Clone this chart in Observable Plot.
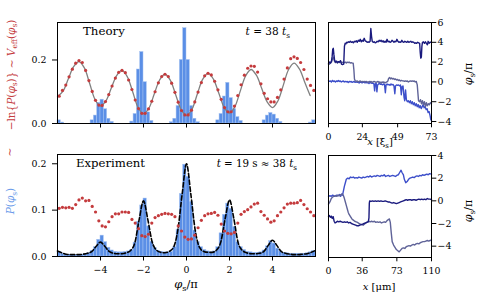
<!DOCTYPE html>
<html><head><meta charset="utf-8">
<script src="https://cdn.jsdelivr.net/npm/d3@7"></script>
<script src="https://cdn.jsdelivr.net/npm/@observablehq/plot@0.6"></script>
<style>
body{margin:0;background:#fff;}
#fig{position:relative;width:478px;height:295px;overflow:hidden;background:#fff;}
#fig > svg{position:absolute;left:0;top:0;}
</style></head><body><div id="fig"></div>
<script>
// ---------- data ----------
const binWidth = 2/13; // histogram bin width in units of pi
const phiCenters = [
-5.923,-5.769,-5.615,-5.462,-5.308,-5.154,-5.000,-4.846,-4.692,-4.538,-4.385,-4.231,-4.077,
-3.923,-3.769,-3.615,-3.462,-3.308,-3.154,-3.000,-2.846,-2.692,-2.538,-2.385,-2.231,-2.077,
-1.923,-1.769,-1.615,-1.462,-1.308,-1.154,-1.000,-0.846,-0.692,-0.538,-0.385,-0.231,-0.077,
0.077,0.231,0.385,0.538,0.692,0.846,1.000,1.154,1.308,1.462,1.615,1.769,1.923,
2.077,2.231,2.385,2.538,2.692,2.846,3.000,3.154,3.308,3.462,3.615,3.769,3.923,
4.077,4.231,4.385,4.538,4.692,4.846,5.000,5.154,5.308,5.462,5.615,5.769,5.923];
const theoryP = [
0.010,0.003,0,0,0,0,0,0,0,0,0.010,0.025,0.065,
0.075,0.045,0.015,0.005,0,0,0,0,0,0.006,0.030,0.170,0.225,
0.130,0.035,0.008,0,0,0,0,0,0.004,0.015,0.055,0.200,0.300,
0.200,0.055,0.015,0.004,0,0,0,0,0,0.010,0.030,0.085,0.128,
0.080,0.045,0.020,0.008,0,0,0,0,0,0,0.010,0.025,0.033,
0.028,0.015,0.005,0,0,0,0,0,0,0,0,0.003,0.010];
const theoryV = [
0.086,0.104,0.121,0.147,0.171,0.190,0.198,0.192,0.167,0.135,0.101,0.073,0.058,
0.057,0.069,0.091,0.118,0.143,0.161,0.167,0.160,0.137,0.107,0.074,0.047,0.032,
0.032,0.046,0.070,0.100,0.128,0.148,0.155,0.148,0.127,0.098,0.067,0.041,0.027,
0.027,0.042,0.068,0.099,0.129,0.150,0.158,0.153,0.133,0.106,0.076,0.050,0.037,
0.037,0.055,0.088,0.122,0.152,0.174,0.181,0.180,0.162,0.125,0.095,0.078,0.068,
0.068,0.082,0.106,0.140,0.175,0.204,0.210,0.205,0.192,0.170,0.140,0.120,0.104];
const veffX = [-6,-5.75,-5.5,-5.25,-5,-4.75,-4.5,-4.25,-4,-3.75,-3.5,-3.25,-3,-2.75,-2.5,-2.25,-2,-1.75,-1.5,-1.25,-1,-0.75,-0.5,-0.25,0,0.25,0.5,0.75,1,1.25,1.5,1.75,2,2.25,2.5,2.75,3,3.25,3.5,3.75,4,4.25,4.5,4.75,5,5.25,5.5,5.75];
const veffY = [0.085,0.101,0.140,0.179,0.195,0.175,0.125,0.075,0.055,0.071,0.111,0.151,0.167,0.147,0.099,0.050,0.030,0.048,0.093,0.137,0.155,0.136,0.090,0.044,0.025,0.044,0.092,0.139,0.158,0.140,0.096,0.051,0.033,0.053,0.102,0.150,0.170,0.152,0.110,0.068,0.050,0.071,0.120,0.170,0.190,0.172,0.130,0.088];
const expP = [
0.010,0.006,0.004,0.004,0.003,0.003,0.003,0.004,0.005,0.007,0.012,0.020,0.036,
0.045,0.031,0.019,0.013,0.010,0.009,0.009,0.010,0.011,0.014,0.030,0.075,0.110,
0.125,0.065,0.032,0.018,0.012,0.010,0.009,0.009,0.010,0.020,0.058,0.135,0.198,
0.172,0.118,0.056,0.031,0.020,0.014,0.011,0.009,0.011,0.020,0.050,0.090,0.114,
0.103,0.064,0.031,0.020,0.014,0.010,0.009,0.008,0.008,0.009,0.013,0.022,0.033,
0.028,0.017,0.011,0.008,0.007,0.006,0.006,0.006,0.006,0.006,0.007,0.009,0.012];
const expV = [
0.104,0.106,0.105,0.106,0.104,0.112,0.122,0.126,0.120,0.121,0.108,0.096,0.077,
0.066,0.064,0.075,0.086,0.092,0.092,0.096,0.096,0.095,0.080,0.072,0.060,0.045,
0.043,0.048,0.072,0.084,0.088,0.091,0.093,0.092,0.091,0.086,0.066,0.055,0.042,
0.037,0.038,0.046,0.062,0.078,0.088,0.092,0.093,0.095,0.089,0.070,0.055,0.050,
0.049,0.052,0.072,0.091,0.097,0.101,0.107,0.113,0.115,0.097,0.089,0.081,0.074,
0.077,0.088,0.096,0.105,0.113,0.115,0.115,0.116,0.121,0.112,0.103,0.096,0.088];
const fitX = [-6,-5.8,-5.6,-5.4,-5.2,-5,-4.8,-4.6,-4.4,-4.2,-4,-3.8,-3.6,-3.4,-3.2,-3,-2.8,-2.6,-2.4,-2.2,-2,-1.8,-1.6,-1.4,-1.2,-1,-0.8,-0.6,-0.4,-0.2,0,0.2,0.4,0.6,0.8,1,1.2,1.4,1.6,1.8,2,2.2,2.4,2.6,2.8,3,3.2,3.4,3.6,3.8,4,4.2,4.4,4.6,4.8,5,5.2,5.4,5.6,5.8,6];
const fitP = [0.012,0.008,0.005,0.004,0.004,0.004,0.005,0.007,0.011,0.022,0.031,0.022,0.011,0.007,0.006,0.006,0.008,0.013,0.030,0.080,0.120,0.080,0.032,0.014,0.009,0.008,0.011,0.020,0.058,0.135,0.200,0.135,0.058,0.020,0.011,0.009,0.009,0.014,0.032,0.082,0.122,0.082,0.030,0.013,0.008,0.006,0.006,0.007,0.011,0.024,0.035,0.024,0.011,0.007,0.005,0.004,0.004,0.005,0.006,0.009,0.013];

// theory traces: [x (xi_s), phi_s/pi]
const thNavy = [[0,1.85],[0.7,2.0],[1.4,1.9],[2.1,2.1],[2.6,2.6],[3.0,3.3],[3.4,3.4],[3.8,2.8],[4.3,2.2],[5.0,2.0],[5.7,2.1],[6.4,1.95],[7.1,2.05],[7.8,2.0],[8.5,2.15],[9.2,1.8],[9.9,1.75],[10.8,1.8],[11.3,3.6],[11.8,3.9],[12.4,3.85],[12.9,4.0],[13.4,3.95],[14.1,4.05],[14.8,4.0],[15.5,4.1],[16.2,4.0],[16.9,4.05],[17.6,3.95],[18.3,4.1],[19.0,4.05],[19.7,4.15],[20.4,4.0],[21.1,4.2],[21.8,4.1],[22.5,4.3],[23.2,4.05],[23.9,4.2],[24.6,4.1],[25.3,4.4],[26.0,4.15],[26.7,4.1],[27.4,4.0],[28.1,4.05],[28.8,4.0],[29.5,4.1],[30.0,5.4],[30.5,4.6],[31.0,4.1],[31.7,4.0],[32.4,4.05],[33.1,3.95],[33.8,4.0],[34.5,4.1],[35.2,4.05],[35.9,4.2],[36.6,4.1],[37.3,4.2],[38.0,4.05],[38.7,4.15],[39.4,4.0],[40.1,4.1],[40.8,4.0],[41.5,4.3],[42.2,4.05],[42.9,4.1],[43.6,4.0],[44.3,4.05],[45.0,4.2],[45.7,4.1],[46.4,4.0],[47.1,4.1],[47.8,4.05],[48.5,4.3],[49.2,4.1],[49.9,4.0],[50.6,4.05],[51.3,4.0],[52.0,4.2],[52.7,4.05],[53.4,4.0],[54.1,4.1],[54.8,4.05],[55.5,4.0],[56.2,4.1],[56.9,4.0],[57.6,4.05],[58.3,4.1],[59.0,4.0],[59.7,4.05],[60.4,4.0],[61.1,3.9],[61.8,3.95],[62.5,3.9],[63.2,4.0],[63.9,3.95],[64.6,3.9],[65.0,3.0],[65.4,2.4],[65.8,2.5],[66.2,3.6],[66.6,4.0],[67.3,4.05],[68.0,3.9],[68.7,4.05],[69.4,3.9],[70.1,3.75],[70.6,4.1],[71.3,3.9],[72.0,4.0],[73,4.0]];
const thGray = [[0,1.75],[0.7,1.8],[1.4,1.9],[2.1,2.0],[2.8,2.3],[3.5,2.5],[4.2,2.1],[4.9,1.95],[5.6,2.0],[6.3,1.9],[7.0,2.0],[7.7,1.95],[8.4,2.05],[9.1,2.0],[9.8,1.95],[10.5,2.0],[11.2,1.95],[11.9,2.0],[12.6,1.9],[13.3,2.0],[14.0,1.95],[14.7,2.0],[15.4,1.9],[16.1,1.95],[16.8,1.9],[17.5,1.9],[18.0,1.2],[18.4,0.3],[19.0,0.1],[19.7,0.05],[20.4,0.1],[21.1,0.0],[21.8,0.05],[22.5,0.1],[23.2,0.0],[23.9,0.05],[24.6,0.0],[25.3,0.05],[26.0,0.0],[26.7,0.05],[27.4,0.0],[28.1,-0.05],[28.8,0.05],[29.5,0.0],[30.2,0.05],[30.9,-0.05],[31.6,0.0],[32.3,0.05],[33.0,0.0],[33.7,-0.05],[34.4,0.0],[35.1,0.05],[35.8,-0.05],[36.5,0.0],[37.2,-0.1],[37.9,0.0],[38.6,-0.05],[39.3,0.0],[40.0,-0.1],[40.7,-0.05],[41.4,0.0],[42.1,0.1],[42.6,0.35],[43.3,0.45],[44.0,0.3],[44.7,0.4],[45.4,0.3],[46.1,0.35],[46.8,0.25],[47.5,0.3],[48.2,0.2],[48.9,0.25],[49.6,0.15],[50.3,0.2],[51.0,0.1],[51.7,0.15],[52.4,0.1],[53.1,0.1],[53.8,0.05],[54.5,0.1],[55.2,0.05],[55.9,0.1],[56.6,0.0],[57.3,0.05],[58.0,0.1],[58.7,0.05],[59.4,0.1],[60.1,0.05],[60.8,0.1],[61.5,0.0],[62.2,0.05],[62.9,-0.3],[63.4,-1.2],[63.8,-1.9],[64.5,-2.0],[65.2,-1.8],[65.9,-2.2],[66.6,-1.9],[67.3,-2.3],[68.0,-2.0],[68.7,-2.5],[69.4,-2.1],[70.1,-2.4],[70.8,-2.2],[71.5,-2.3],[72.2,-2.1],[73,-2.2]];
const thBlue = [[0,0.1],[0.7,0.05],[1.4,0.1],[2.1,0.0],[2.8,0.15],[3.5,0.05],[4.2,0.1],[4.9,0.0],[5.6,0.1],[6.3,0.05],[7.0,0.15],[7.7,0.05],[8.4,0.1],[9.1,0.0],[9.8,0.05],[10.5,0.1],[11.2,0.0],[11.9,0.05],[12.6,0.0],[13.3,0.05],[14.0,-0.05],[14.7,0.05],[15.4,0.0],[16.1,0.05],[16.8,-0.05],[17.5,0.0],[18.2,0.05],[18.9,-0.05],[19.6,0.0],[20.3,-0.05],[21.0,0.0],[21.7,-0.1],[22.4,0.0],[23.1,-0.05],[23.8,-0.1],[24.5,0.0],[25.2,-0.05],[25.9,-0.1],[26.6,-0.05],[27.3,-0.1],[28.0,-0.05],[28.7,-0.15],[29.4,-0.05],[30.1,-0.1],[30.8,-0.15],[31.5,-0.1],[32.2,-0.2],[32.7,-0.9],[33.1,-0.2],[33.8,-0.15],[34.3,-1.0],[34.8,-0.3],[35.5,-0.2],[36.2,-0.15],[36.9,-0.25],[37.6,-0.2],[38.3,-0.3],[39.0,-0.2],[39.7,-0.25],[40.3,-1.1],[40.8,-0.3],[41.5,-0.2],[42.2,-0.3],[42.9,-0.25],[43.6,-0.35],[44.3,-0.2],[45.0,-0.3],[45.7,-0.25],[46.4,-0.4],[47.0,-1.2],[47.5,-0.4],[48.2,-0.3],[48.9,-0.35],[49.6,-0.3],[50.3,-0.4],[51.0,-0.3],[51.6,-1.3],[52.1,-0.5],[52.8,-0.4],[53.5,-1.5],[54.0,-1.9],[54.6,-0.8],[55.2,-1.8],[55.9,-2.0],[56.6,-1.9],[57.3,-2.1],[58.0,-1.9],[58.7,-2.2],[59.4,-2.0],[60.1,-2.3],[60.8,-2.1],[61.5,-2.4],[62.2,-2.2],[62.9,-2.5],[63.6,-2.3],[64.3,-2.6],[65.0,-2.4],[65.7,-2.7],[66.4,-2.5],[67.1,-2.3],[67.8,-2.6],[68.5,-2.5],[69.2,-2.8],[69.9,-2.7],[70.6,-3.1],[71.3,-3.0],[72.0,-3.4],[72.5,-3.8],[73,-3.9]];
// experiment traces: [x (um), phi_s/pi]
const exBlue = [[0,0.4],[1.5,0.45],[3,0.4],[4.5,0.5],[6,0.4],[7.5,0.45],[9,0.5],[10.5,0.45],[12,0.55],[13,0.4],[14,0.6],[15,0.5],[16,0.9],[17,1.3],[18,1.6],[19,1.9],[20.5,2.0],[22,1.95],[23.5,2.1],[25,2.05],[26.5,2.1],[28,2.0],[29.5,2.05],[31,2.0],[32.5,2.1],[34,2.05],[35.5,2.0],[37,2.1],[38.5,2.05],[40,2.1],[41.5,2.15],[43,2.1],[44.5,2.2],[46,2.1],[47.5,2.15],[49,2.2],[50.5,2.15],[52,2.25],[53.5,2.2],[55,2.15],[56.5,2.25],[58,2.2],[59.5,2.3],[61,2.15],[62.5,2.2],[64,2.25],[65.5,2.15],[67,2.2],[68.5,2.25],[70,2.2],[71.5,2.15],[73,2.25],[74.5,2.3],[76,2.5],[77.5,2.7],[78.5,2.5],[80,2.3],[81,1.9],[82.5,1.6],[84,1.7],[85.5,1.9],[87,2.0],[88.5,2.05],[90,2.1],[91.5,2.05],[93,2.15],[94.5,2.2],[96,2.15],[97.5,2.25],[99,2.2],[100.5,2.3],[102,2.25],[103.5,2.3],[105,2.35],[106.5,2.3],[108,2.4],[110,2.35]];
const exGray = [[0,-0.3],[1.5,-0.1],[3,0.2],[4.5,0.35],[6,0.4],[7.5,0.45],[9,0.4],[10.5,0.5],[12,0.45],[13.5,0.55],[15,0.6],[16,0.45],[17,0.2],[18,-0.1],[19,-0.4],[20,-0.7],[21,-1.0],[22,-1.2],[23.5,-1.4],[25,-1.6],[26.5,-1.7],[28,-1.8],[29.5,-1.85],[31,-1.9],[32.5,-2.0],[34,-2.05],[35.5,-2.1],[37,-2.15],[38.5,-2.05],[40,-1.95],[41.5,-1.85],[43,-1.8],[44.5,-1.85],[46,-1.8],[47.5,-1.85],[49,-1.8],[50.5,-1.9],[52,-1.85],[53.5,-1.9],[55,-1.85],[56.5,-1.95],[58,-1.9],[59.5,-1.85],[61,-1.9],[62.5,-1.75],[64,-1.65],[65,-1.6],[66,-1.9],[67,-2.8],[68,-3.6],[69.5,-3.9],[71,-4.1],[72.5,-4.3],[74,-4.4],[75.5,-4.5],[77,-4.35],[78.5,-4.2],[80,-4.15],[81.5,-4.2],[83,-4.05],[84.5,-4.0],[86,-3.95],[87.5,-4.0],[89,-3.9],[90.5,-3.85],[92,-3.9],[93.5,-3.8],[95,-3.75],[96.5,-3.8],[98,-3.7],[99.5,-3.65],[101,-3.6],[102.5,-3.6],[104,-3.55],[105.5,-3.5],[107,-3.55],[108.5,-3.5],[110,-3.45]];
const exNavy = [[0,-1.4],[1,-1.3],[2,-1.45],[3,-1.35],[4,-1.55],[5,-1.4],[6,-1.8],[7,-1.95],[8,-1.9],[9.5,-1.8],[11,-1.85],[12.5,-1.8],[14,-1.85],[15.5,-1.9],[17,-1.85],[18.5,-1.9],[20,-1.85],[21.5,-1.95],[23,-1.9],[24.5,-2.0],[26,-2.05],[27.5,-2.1],[29,-2.15],[30.5,-2.2],[32,-2.2],[33.5,-2.15],[35,-2.1],[36.5,-2.05],[38,-2.0],[39.5,-1.95],[41,-1.9],[42.5,-1.85],[43.2,-1.5],[43.6,-0.2],[44,0.0],[45.5,-0.05],[47,0.0],[48.5,-0.05],[50,0.0],[51.5,-0.05],[53,0.0],[54.5,-0.05],[56,0.0],[57.5,-0.05],[59,-0.05],[60.5,0.0],[62,-0.05],[63.5,-0.1],[65,-0.1],[66.5,-0.15],[68,-0.2],[69.5,-0.15],[71,-0.2],[72.5,-0.25],[74,-0.2],[75.5,-0.15],[77,-0.1],[78.5,-0.05],[80,0.0],[81.5,0.05],[83,0.1],[84.5,0.05],[86,0.1],[87.5,0.1],[89,0.05],[90.5,0.1],[92,0.1],[93.5,0.05],[95,0.1],[96.5,0.15],[98,0.1],[99.5,0.15],[101,0.1],[102.5,0.15],[104,0.1],[105.5,0.2],[107,0.15],[108.5,0.15],[110,0.1]];

const phiTicks = [-4,-2,0,2,4];
const thXTicks = [0,24,49,73];
const exXTicks = [0,36,73,110];
const thYTicks = [6,4,2,0,-2,-4];
const exYTicks = [4,2,0,-2,-4];

// ---------- drawing ----------
const W = 478, H = 295;
const serif = '"DejaVu Serif", serif';
const C = {bar:"#5b8fe6", barEdge:"#a6c3f1", red:"#c43b3d", gray:"#808080", navy:"#1a1a7e", blue:"#3d4fca", grayBlue:"#5f6398", pblue:"#6b9bea"};
const fmtNum = d => d < 0 ? "\u2212" + (-d) : String(d);
const style = {background:"transparent", fontFamily:serif, fontSize:"9.4px", color:"black", overflow:"visible"};
const fig = document.getElementById("fig");

const theory = phiCenters.map((x,i)=>({x, p:theoryP[i], v:theoryV[i]}));
const expt = phiCenters.map((x,i)=>({x, p:expP[i], v:expV[i]}));
const veff = veffX.map((x,i)=>({x, y:veffY[i]}));
const fit = fitX.map((x,i)=>({x, y:fitP[i]}));

function histMarks(data){
  return Plot.rect(data.filter(d=>d.p>0), {x1:d=>d.x-binWidth/2, x2:d=>d.x+binWidth/2, y1:0, y2:"p", fill:C.bar, stroke:C.barEdge, strokeWidth:0.5});
}

const tl = Plot.plot({
  width:W, height:H, marginLeft:57, marginRight:W-315, marginTop:22, marginBottom:H-123, style,
  x:{domain:[-6,6], label:null}, y:{domain:[0,0.318], label:null},
  marks:[
    histMarks(theory),
    Plot.line(veff, {x:"x", y:"y", stroke:C.gray, strokeWidth:1.3, curve:"catmull-rom"}),
    Plot.dot(theory, {x:"x", y:"v", r:1.6, fill:C.red, stroke:"none"}),
    Plot.axisX({ticks:phiTicks, tickSize:4.5, tickFormat:()=>"", label:null}),
    Plot.axisY({ticks:[0,0.2], tickSize:5, tickPadding:6, tickFormat:d3.format(".1f"), label:null}),
    Plot.frame({stroke:"black", strokeWidth:1})
  ]
});

const bl = Plot.plot({
  width:W, height:H, marginLeft:57, marginRight:W-315, marginTop:154, marginBottom:H-256, style,
  x:{domain:[-6,6], label:null}, y:{domain:[0,0.22], label:null},
  marks:[
    histMarks(expt),
    Plot.line(fit, {x:"x", y:"y", stroke:"black", strokeWidth:1.6, strokeDasharray:"4.5,2.2", curve:"monotone-x"}),
    Plot.dot(expt, {x:"x", y:"v", r:1.6, fill:C.red, stroke:"none"}),
    Plot.axisX({ticks:phiTicks, tickSize:4.5, tickPadding:5.5, tickFormat:fmtNum, label:null}),
    Plot.axisY({ticks:[0,0.1,0.2], tickSize:5, tickPadding:6, tickFormat:d3.format(".1f"), label:null}),
    Plot.frame({stroke:"black", strokeWidth:1})
  ]
});

function traceMarks(series){
  return series.map(([d,col])=>Plot.line(d, {x:p=>p[0], y:p=>p[1], stroke:col, strokeWidth:1.4}));
}

const tr = Plot.plot({
  width:W, height:H, marginLeft:328, marginRight:W-431, marginTop:22, marginBottom:H-123, style,
  x:{domain:[0,73], label:null}, y:{domain:[-4.2,6], label:null},
  marks:[
    ...traceMarks([[thBlue,C.blue],[thGray,C.grayBlue],[thNavy,C.navy]]),
    Plot.axisX({ticks:thXTicks, tickSize:4.3, tickPadding:6, tickFormat:fmtNum, label:null}),
    Plot.axisY({anchor:"right", ticks:thYTicks, tickSize:4.3, tickPadding:1.8, tickFormat:fmtNum, label:null}),
    Plot.frame({stroke:"black", strokeWidth:1})
  ]
});

const br = Plot.plot({
  width:W, height:H, marginLeft:328, marginRight:W-431, marginTop:155, marginBottom:H-257, style,
  x:{domain:[0,110], label:null}, y:{domain:[-5,4], label:null},
  marks:[
    ...traceMarks([[exBlue,C.blue],[exGray,C.grayBlue],[exNavy,C.navy]]),
    Plot.axisX({ticks:exXTicks, tickSize:4.3, tickPadding:5.5, tickFormat:fmtNum, label:null}),
    Plot.axisY({anchor:"right", ticks:exYTicks, tickSize:4.3, tickPadding:1.8, tickFormat:fmtNum, label:null}),
    Plot.frame({stroke:"black", strokeWidth:1})
  ]
});

[tl, bl, tr, br].forEach(p => fig.appendChild(p));

// ---------- text overlay ----------
const overlay = d3.select(fig).append("svg").attr("width",W).attr("height",H).style("font-family",serif);
function rich(x, y, parts, {size=11, anchor="start", rotate=0, fill="black"}={}) {
  const t = overlay.append("text").attr("x",x).attr("y",y).attr("font-size",size).attr("text-anchor",anchor).attr("fill",fill);
  if (rotate) t.attr("transform",`rotate(${rotate},${x},${y})`);
  let shift = 0;
  for (const p of parts) {
    const s = t.append("tspan").text(p.t);
    if (p.i) s.attr("font-style","italic");
    const target = p.sub ? size*0.28 : 0;
    if (target !== shift) { s.attr("dy", target - shift); shift = target; }
    if (p.sub) s.attr("font-size", size*0.7);
  }
  return t;
}
const phiS = [{t:"\u03c6",i:1},{t:"s",sub:1}];
rich(83, 35, [{t:"Theory"}], {size:11.8});
rich(290, 35, [{t:"t",i:1},{t:" = 38 "},{t:"t",i:1},{t:"s",sub:1}], {size:10.5, anchor:"end"});
rich(76, 167, [{t:"Experiment"}], {size:11.7});
rich(297, 167, [{t:"t",i:1},{t:" = 19 s \u2248 38 "},{t:"t",i:1},{t:"s",sub:1}], {size:10.3, anchor:"end"});
rich(186, 288, [...phiS,{t:"/\u03c0"}], {size:11.5, anchor:"middle"});
rich(380, 145, [{t:"x",i:1},{t:" [\u03be"},{t:"s",sub:1},{t:"]"}], {size:10, anchor:"middle"});
rich(379, 290, [{t:"x",i:1},{t:" [\u03bcm]"}], {size:10, anchor:"middle"});
rich(471.5, 74, [...phiS,{t:"/\u03c0"}], {size:11, anchor:"middle", rotate:-90});
rich(471.5, 211, [...phiS,{t:"/\u03c0"}], {size:11, anchor:"middle", rotate:-90});
rich(14.5, 75, [{t:"\u2212ln{"},{t:"P",i:1},{t:"("},...phiS,{t:")} \u223c "},{t:"V",i:1},{t:"eff",sub:1},{t:"("},...phiS,{t:")"}], {size:10.5, anchor:"middle", rotate:-90, fill:C.red});
rich(13, 152, [{t:"\u223c"}], {size:10.5, anchor:"middle", rotate:-90, fill:C.red});
rich(14, 201, [{t:"P",i:1},{t:"("},...phiS,{t:")"}], {size:10.5, anchor:"middle", rotate:-90, fill:C.pblue});
</script>
</body></html>
